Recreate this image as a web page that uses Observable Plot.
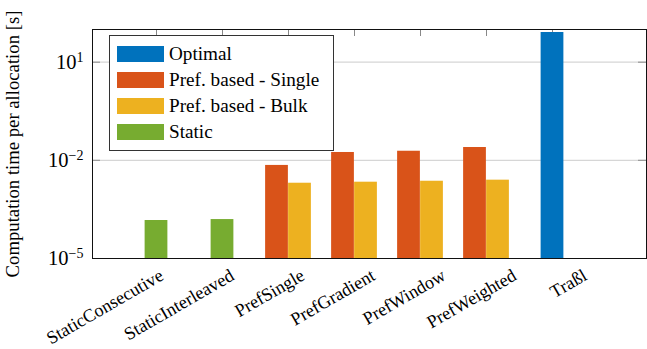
<!DOCTYPE html>
<html><head><meta charset="utf-8">
<script src="https://cdn.jsdelivr.net/npm/d3@7"></script>
<script src="https://cdn.jsdelivr.net/npm/@observablehq/plot@0.6"></script>
<style>
body{margin:0;background:#fff;}
#wrap{position:relative;width:647px;height:349px;font-family:"Liberation Serif","Times New Roman",serif;color:#000;}
#legend{position:absolute;left:109px;top:35px;width:225px;height:116px;border:1px solid #333;background:#fff;box-sizing:border-box;}
.row{position:absolute;left:7px;height:16px;display:flex;align-items:center;}
.sw{width:47px;height:16px;margin-right:5px;}
.lt{font-size:19.2px;white-space:nowrap;line-height:16px;}
</style></head><body><div id="wrap"></div>
<script>
const categories = ["StaticConsecutive","StaticInterleaved","PrefSingle","PrefGradient","PrefWindow","PrefWeighted","Traßl"];
const seriesNames = ["Optimal","Pref. based - Single","Pref. based - Bulk","Static"];
const seriesColors = ["#0072BD","#D95319","#EDB120","#77AC30"];
const optimal    = [null, null, null, null, null, null, 81];
const prefSingle = [null, null, 0.0070, 0.0174, 0.0190, 0.0247, null];
const prefBulk   = [null, null, 0.0020, 0.00215, 0.0023, 0.00248, null];
const staticVals = [0.000145, 0.000155, null, null, null, null, null];
const yTicks = [1e-5, 1e-2, 1e1];
const yDomain = [1e-5, 1e2];
const yLabel = "Computation time per allocation [s]";

const FONT = '"Liberation Serif","Times New Roman",serif';
const W = 647, H = 349, mL = 92, mR = 1, mT = 29, mB = 91;
const frameW = W - mL - mR, frameH = H - mT - mB;
const c0 = 155.3, c6 = 552.7, step = (c6 - c0) / 6, half = step / 2, barW = 23;

function rows(vals, s) {
  return vals.map((v, i) => ({cat: categories[i], v, s})).filter(d => d.v != null);
}
const layout = [
  {vals: optimal, s: 0, il: half - barW / 2, ir: half - barW / 2},
  {vals: prefSingle, s: 1, il: half - barW, ir: half},
  {vals: prefBulk, s: 2, il: half, ir: half - barW},
  {vals: staticVals, s: 3, il: half - barW / 2, ir: half - barW / 2}
];

const barMarks = layout.map(L => Plot.barY(rows(L.vals, L.s), {
  x: "cat", y1: () => yDomain[0], y2: "v",
  fill: seriesColors[L.s], insetLeft: L.il, insetRight: L.ir
}));

const labelMarks = categories.map((c, i) => Plot.text([c], {
  x: d => d, frameAnchor: "bottom", dy: 15.5, dx: 5.3 + 4.57 * i,
  rotate: -30, textAnchor: "end", lineAnchor: "middle", fontSize: 18.2
}));

const plot = Plot.plot({
  width: W, height: H,
  marginLeft: mL, marginRight: mR, marginTop: mT, marginBottom: mB,
  style: {fontFamily: FONT, background: "#fff", color: "#000"},
  x: {type: "band", domain: categories, range: [c0 - half, c6 + half], padding: 0, axis: null},
  y: {type: "log", domain: yDomain, axis: null},
  marks: [
    Plot.gridY([1e-2, 1e1], {stroke: "#d6d6d6", strokeOpacity: 1, strokeWidth: 1.2}),
    Plot.ruleY([1e-2, 1e1], {stroke: "#999", strokeWidth: 1.2, insetRight: frameW - 8}),
    Plot.ruleY([1e-2, 1e1], {stroke: "#999", strokeWidth: 1.2, insetLeft: frameW - 8}),
    Plot.ruleX(categories, {x: d => d, stroke: "#888", strokeWidth: 1, insetBottom: frameH - 7}),
    ...barMarks,
    Plot.frame({stroke: "#111", strokeWidth: 1}),
    Plot.axisY({ticks: yTicks, tickSize: 0, tickPadding: 9, fontSize: 20.5,
      tickFormat: d => "10^" + Math.round(Math.log10(d)), label: null}),
    ...labelMarks,
    Plot.text([yLabel], {frameAnchor: "left", dx: -79, rotate: -90, fontSize: 18.7,
      textAnchor: "middle", lineAnchor: "middle"})
  ]
});

plot.querySelectorAll('g[aria-label="y-axis tick label"] text').forEach(t => {
  const parts = t.textContent.split("^");
  if (parts.length !== 2) return;
  t.textContent = "";
  const ns = "http://www.w3.org/2000/svg";
  const a = document.createElementNS(ns, "tspan"); a.textContent = parts[0];
  const b = document.createElementNS(ns, "tspan");
  b.textContent = parts[1].replace("-", "\u2212");
  b.setAttribute("font-size", "14");
  b.setAttribute("dy", "-0.5em");
  t.appendChild(a); t.appendChild(b);
});

const wrap = document.getElementById("wrap");
wrap.appendChild(plot);

const legend = document.createElement("div");
legend.id = "legend";
seriesNames.forEach((n, i) => {
  const r = document.createElement("div");
  r.className = "row";
  r.style.top = (10 + i * 26) + "px";
  const sw = document.createElement("div");
  sw.className = "sw"; sw.style.background = seriesColors[i];
  const lt = document.createElement("span");
  lt.className = "lt"; lt.textContent = n;
  r.appendChild(sw); r.appendChild(lt);
  legend.appendChild(r);
});
wrap.appendChild(legend);
</script></body></html>
